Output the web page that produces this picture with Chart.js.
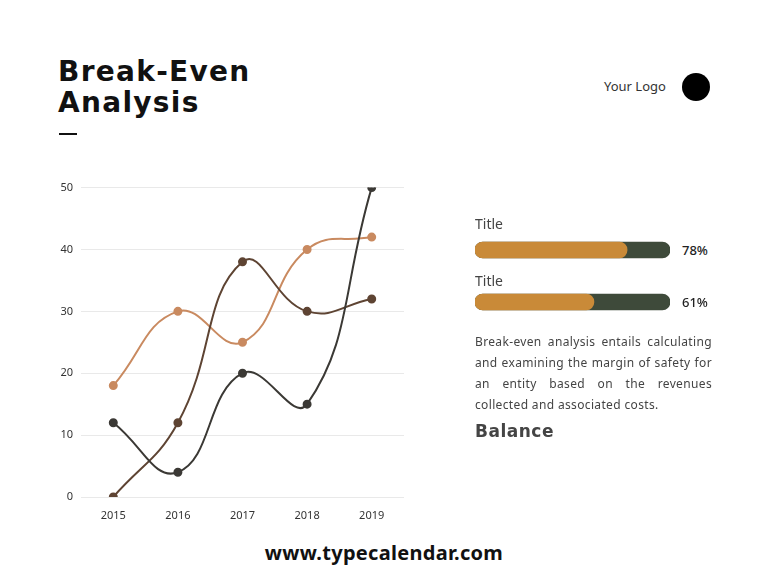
<!DOCTYPE html>
<html>
<head>
<meta charset="utf-8">
<script src="https://cdn.jsdelivr.net/npm/chart.js@4"></script>
<style>
  body { margin: 0; background: #fff; font-family: "Noto Sans", sans-serif; }
  #page { position: relative; width: 768px; height: 576px; overflow: hidden; background: #fff; }
  .abs { position: absolute; }
  #titulo { left: 58px; top: 56px; font-family: "DejaVu Sans", sans-serif; font-weight: bold; font-size: 28px; line-height: 31px; color: #111; letter-spacing: 1.3px; }
  #traco { left: 59px; top: 133px; width: 18px; height: 2px; background: #111; }
  #logo { left: 604px; top: 77px; font-size: 13px; color: #333; }
  #circulo { left: 682px; top: 73px; width: 28px; height: 28px; border-radius: 50%; background: #000; }
  .rotulo { font-size: 14px; color: #444; }
  .pct { font-size: 13px; color: #222; font-weight: 500; }
  #texto { left: 475px; top: 331px; width: 237px; font-size: 12px; letter-spacing: 0.35px; line-height: 21px; color: #444; text-align: justify; text-align-last: left; }
  #balance { left: 475px; top: 421px; font-family: "DejaVu Sans", sans-serif; font-size: 17px; font-weight: 600; color: #444; letter-spacing: 0.5px; }
  #site { left: 0; width: 768px; top: 539px; text-align: center; font-size: 20px; font-weight: bold; color: #111; letter-spacing: 0.3px; }
</style>
</head>
<body>
<div id="page">
  <div id="titulo" class="abs">Break-Even<br>Analysis</div>
  <div id="traco" class="abs"></div>
  <div id="logo" class="abs">Your Logo</div>
  <div id="circulo" class="abs"></div>

  <div class="abs" style="left:40px; top:173px; width:370px; height:354px;">
    <canvas id="graficoLinhas"></canvas>
  </div>

  <div class="abs" style="left:475px; top:224px; width:195px; height:104px;">
    <canvas id="graficoBarras"></canvas>
  </div>
  <div class="abs rotulo" style="left:475px; top:214px;">Title</div>
  <div class="abs rotulo" style="left:475px; top:271px;">Title</div>
  <div class="abs pct" id="pct0" style="left:682px; top:241px;"></div>
  <div class="abs pct" id="pct1" style="left:682px; top:293px;"></div>

  <div id="texto" class="abs">Break-even analysis entails calculating and examining the margin of safety for an entity based on the revenues collected and associated costs.</div>
  <div id="balance" class="abs">Balance</div>
  <div id="site" class="abs">www.typecalendar.com</div>
</div>

<script>
// dados do gráfico de linhas
const anos = ["2015", "2016", "2017", "2018", "2019"];
const serieLaranja = [18, 30, 25, 40, 42];
const serieMarrom = [0, 12, 38, 30, 32];
const serieEscura = [12, 4, 20, 15, 50];

// dados das barras de progresso
const titulosBarras = ["Title", "Title"];
const percentuais = [78, 61];
const totalBarra = [100, 100];

function serie(dados, cor) {
    return {
        data: dados,
        borderColor: cor,
        backgroundColor: cor,
        pointBackgroundColor: cor,
        pointBorderColor: cor,
        borderWidth: 2,
        pointRadius: 3.5,
        tension: 0.45
    };
}

new Chart(document.getElementById("graficoLinhas"), {
    type: "line",
    data: {
        labels: anos,
        datasets: [
            serie(serieEscura, "#3b3935"),
            serie(serieMarrom, "#5e4433"),
            serie(serieLaranja, "#c98a60")
        ]
    },
    options: {
        responsive: true,
        maintainAspectRatio: false,
        animation: false,
        layout: { padding: { top: 6, right: 0, left: 0, bottom: 0 } },
        plugins: { legend: { display: false }, tooltip: { enabled: false } },
        scales: {
            x: {
                offset: true,
                grid: { display: false },
                border: { display: false },
                ticks: { color: "#333", font: { family: "Noto Sans", size: 11 }, padding: 4 },
                afterFit: (eixo) => { eixo.height = 30; }
            },
            y: {
                min: 0,
                max: 50,
                grid: { color: "#e9e9e9", lineWidth: 1, drawTicks: false },
                border: { display: false },
                ticks: { stepSize: 10, color: "#333", font: { family: "Noto Sans", size: 11 }, padding: 8 },
                afterFit: (eixo) => { eixo.width = 41; }
            }
        }
    }
});

percentuais.forEach((p, i) => {
    document.getElementById("pct" + i).textContent = p + "%";
});

new Chart(document.getElementById("graficoBarras"), {
    type: "bar",
    data: {
        labels: titulosBarras,
        datasets: [
            {
                data: percentuais,
                backgroundColor: "#c98a38",
                borderRadius: 8,
                borderSkipped: false,
                barThickness: 16,
                order: 1
            },
            {
                data: totalBarra,
                backgroundColor: "#3e4a3a",
                borderRadius: 8,
                borderSkipped: false,
                barThickness: 16,
                order: 2
            }
        ]
    },
    options: {
        indexAxis: "y",
        responsive: true,
        maintainAspectRatio: false,
        animation: false,
        layout: { padding: 0 },
        plugins: { legend: { display: false }, tooltip: { enabled: false } },
        scales: {
            x: { display: false, min: 0, max: 100, stacked: false },
            y: { display: false, stacked: false }
        },
        datasets: { bar: { grouped: false } }
    }
});
</script>
</body>
</html>
